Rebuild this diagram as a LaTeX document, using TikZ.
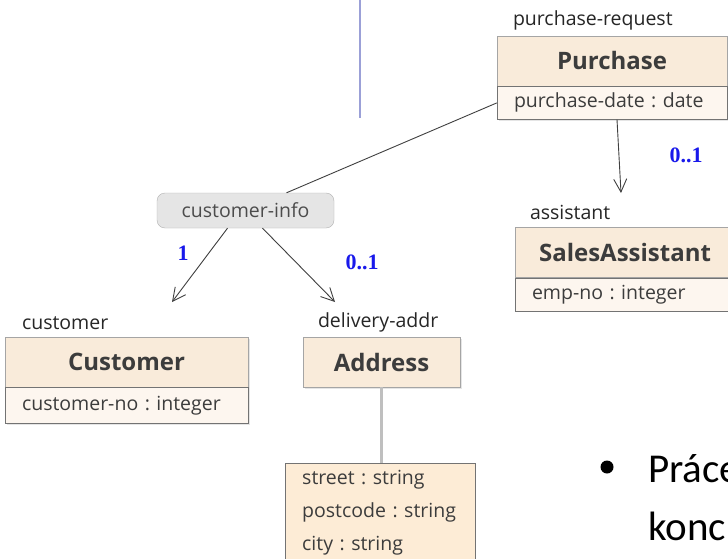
\documentclass[tikz,border=0pt]{standalone}
\usepackage{fontspec}
\setmainfont{Open Sans}
\newfontfamily\slidefont{Carlito}
\newfontfamily\multfont{Liberation Serif}
\usepackage{tikz}
\usetikzlibrary{arrows.meta,positioning,shadows}
\definecolor{headfill}{RGB}{249,235,218}
\definecolor{attrfill}{RGB}{253,246,239}
\definecolor{addrfill}{RGB}{253,236,214}
\definecolor{boxline}{RGB}{165,165,165}
\definecolor{sepline}{RGB}{115,115,115}
\definecolor{txtgray}{RGB}{60,60,60}
\definecolor{multblue}{RGB}{25,25,235}
\definecolor{tabline}{RGB}{155,160,215}
\tikzset{
  >={Straight Barb[length=13pt,width=13pt]},
}
\tikzstyle{every node}=[font=\fontsize{19.5}{24}\selectfont,text=txtgray]
\tikzstyle{boxshadow}=[drop shadow={shadow xshift=1.5pt,shadow yshift=-1.5pt,opacity=0.2}]
\tikzstyle{classhead}=[draw=boxline,fill=headfill,boxshadow,minimum height=50pt,inner sep=0pt,font=\fontsize{24}{28}\selectfont\bfseries]
\tikzstyle{classattr}=[draw=sepline,fill=attrfill,boxshadow,minimum height=33pt,inner xsep=17pt,inner ysep=0pt,align=left,anchor=north]
\tikzstyle{rolename}=[anchor=west,inner sep=0pt,text=black!85]
\tikzstyle{multlabel}=[inner sep=0pt,text=multblue,font=\multfont\fontsize{22}{24}\selectfont\bfseries]
\tikzstyle{assoc}=[draw=black!75,line width=0.9pt,->]
\tikzstyle{slidetext}=[anchor=base west,inner sep=0pt,text=black,font=\slidefont\fontsize{41}{58}\selectfont]

\begin{document}
\frenchspacing
\begin{tikzpicture}[x=1pt,y=-1pt]
  \clip (0,0) rectangle (728,559);
  \fill[white] (0,0) rectangle (728,559);
  \draw[tabline,line width=2.5pt] (360,0) -- (360,118);

  % Purchase
  \node[classhead,minimum width=230pt] (purchase) at (612,61) {Purchase};
  \node[classattr,text width=196pt] (purchaseattr) at (purchase.south) {purchase-date : date};
  \node[rolename] (purchaserole) at ([xshift=16pt,yshift=15pt]purchase.north west) {purchase-request};

  % SalesAssistant
  \node[classhead,minimum width=220pt] (assistant) at (625,252.5) {SalesAssistant};
  \node[classattr,text width=186pt] (assistantattr) at (assistant.south) {emp-no : integer};
  \node[rolename] (assistantrole) at ([xshift=15pt,yshift=15pt]assistant.north west) {assistant};

  % Customer
  \node[classhead,minimum width=243pt] (customer) at (126.5,362) {Customer};
  \node[classattr,text width=209pt,minimum height=36pt] (customerattr) at (customer.south) {customer-no : integer};
  \node[rolename] (customerrole) at ([xshift=17pt,yshift=14pt]customer.north west) {customer};

  % Address
  \node[classhead,minimum width=157pt] (address) at (381.5,362) {Address};
  \node[rolename] (addressrole) at ([xshift=15pt,yshift=14pt]address.north west) {delivery-addr};
  \node[draw=sepline,fill=addrfill,anchor=north west,text width=156pt,inner xsep=17pt,inner ysep=7pt,align=left,
        font=\fontsize{19.5}{33}\selectfont] (addrattr) at (285,463) {street : string\\postcode : string\\city : string};
  \draw[black!25,line width=2.5pt] (address.south) -- (address.south |- addrattr.north);

  % customer-info
  \node[draw=black!30,fill=black!10,rounded corners=8pt,minimum width=177pt,minimum height=35pt,inner sep=0pt,
        text=black!70] (info) at (245.5,210.5) {customer-info};

  % connectors
  \coordinate (asstip) at (621,193);
  \coordinate (custtip) at (172,302);
  \coordinate (addrtip) at (335,302);
  \draw[black!75,line width=0.9pt] ([xshift=41pt]info.north) -- (purchaseattr.west);
  \draw[assoc] ([xshift=5pt]purchaseattr.south) -- (asstip);
  \draw[assoc] ([xshift=-18pt]info.south) -- (custtip);
  \draw[assoc] ([xshift=17pt]info.south) -- (addrtip);

  \node[multlabel] (multassist) at (686,155) {0..1};
  \node[multlabel] (multcust) at (183,253) {1};
  \node[multlabel] (multaddr) at (362,262) {0..1};

  % slide text
  \node[circle,fill=black,minimum size=13pt,inner sep=0pt] (bullet) at (607,467) {};
  \node[slidetext] (line1) at (648,482) {Práce};
  \node[slidetext] (line2) at (648,540) {konc};
\end{tikzpicture}
\end{document}
